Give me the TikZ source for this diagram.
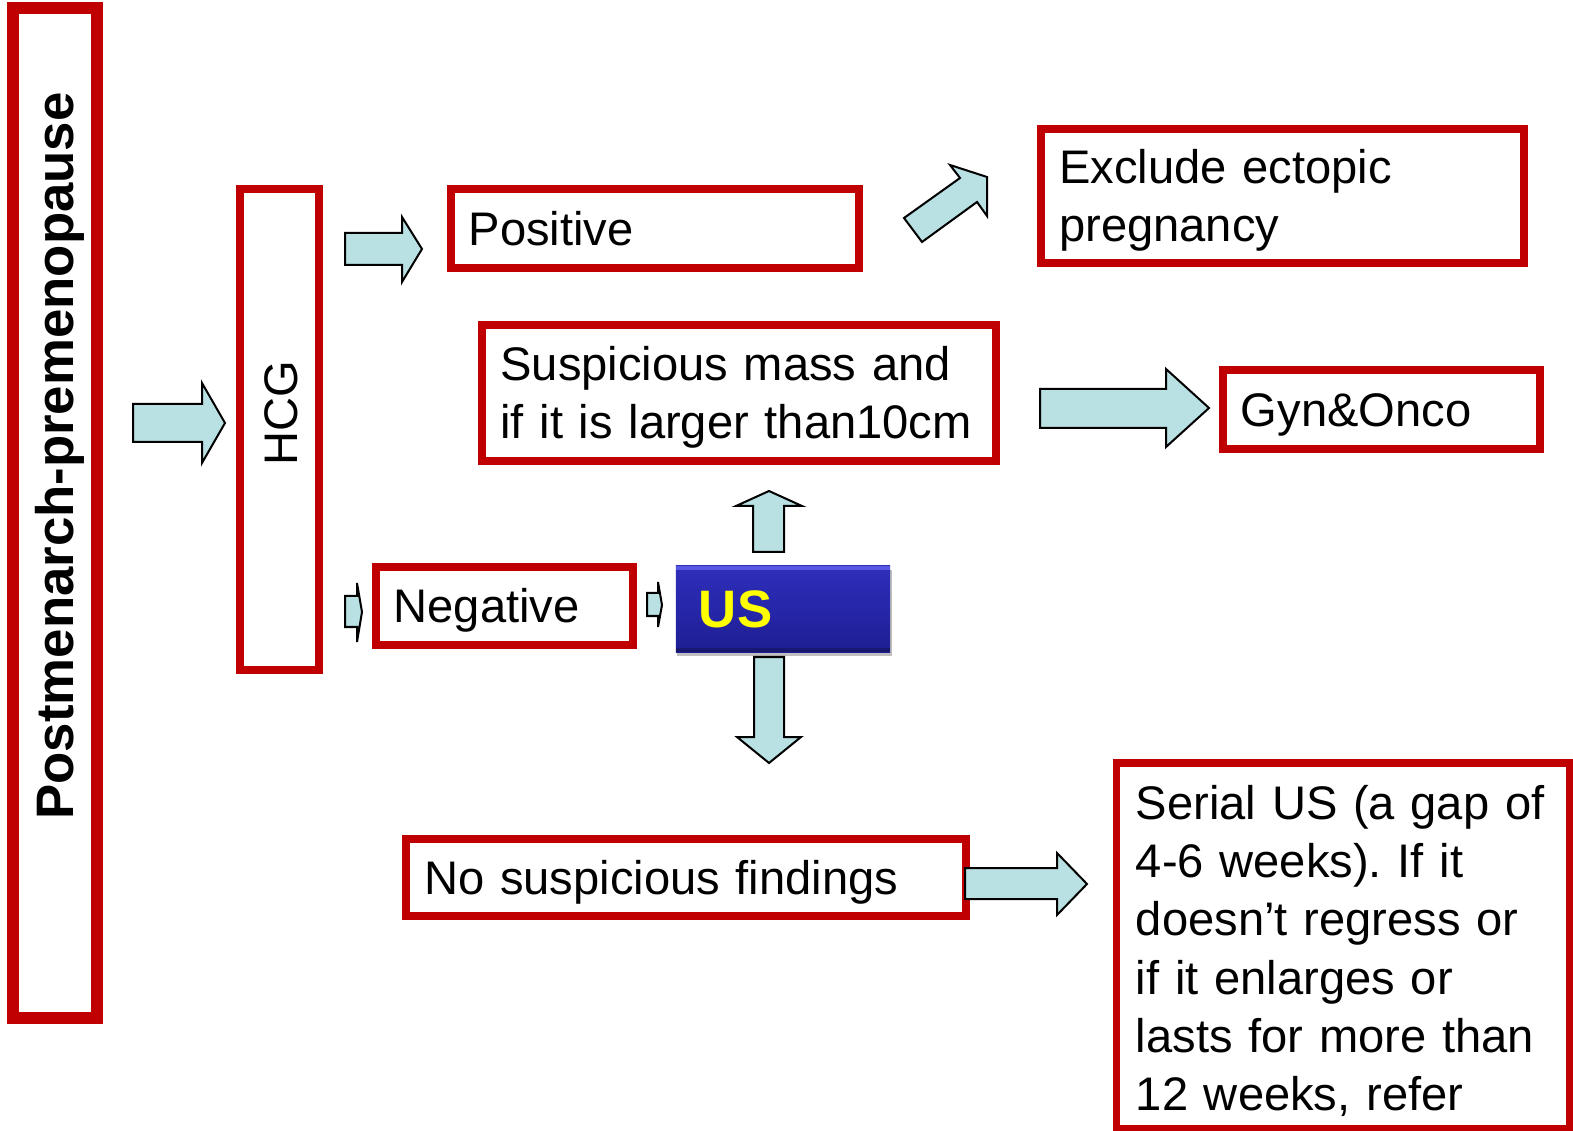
\documentclass[tikz,border=0pt]{standalone}
\usepackage{fontspec}
\setmainfont{Liberation Sans}
\usetikzlibrary{shadows}
\frenchspacing
\definecolor{boxred}{RGB}{192,0,0}
\definecolor{arrowfill}{RGB}{185,224,227}
\definecolor{usblue}{RGB}{38,38,170}
\definecolor{ustop}{RGB}{46,46,185}
\definecolor{usbot}{RGB}{30,30,145}
\definecolor{uslight}{RGB}{88,88,228}
\definecolor{usdark}{RGB}{24,24,112}
\definecolor{usyellow}{RGB}{255,255,0}
\begin{document}
\begin{tikzpicture}[x=0.01cm,y=-0.01cm,
  redbox/.style={draw=boxred, line width=0.08cm, fill=white, inner xsep=0.18cm, inner ysep=0pt,
    align=left, font=\fontsize{13.4pt}{16.5pt}\selectfont, text height=0.337cm, text depth=0pt},
  bigbox/.style={draw=boxred, line width=0.12cm, fill=white, inner sep=0pt},
  tallbox/.style={draw=boxred, line width=0.08cm, fill=white, inner sep=0pt},
  blockarrow/.style={fill=arrowfill, draw=black, line width=0.02cm, line join=miter},
  usbox/.style={top color=ustop, bottom color=usbot, middle color=usblue,
    minimum width=2.14cm, minimum height=0.86cm, text width=1.68cm, inner xsep=0.23cm, inner ysep=0pt,
    align=left, font=\fontsize{15pt}{18pt}\selectfont\bfseries, text=usyellow,
    text height=0.378cm, text depth=0pt,
    drop shadow={shadow xshift=0.015cm, shadow yshift=-0.04cm, opacity=0.25, fill=black},
    path picture={
      \fill[uslight] (path picture bounding box.north west) rectangle ([yshift=-0.04cm]path picture bounding box.north east);
      \fill[usdark] ([yshift=0.04cm]path picture bounding box.south west) rectangle (path picture bounding box.south east);
    }},
  sidelabel/.style={rotate=90, anchor=base, inner sep=0pt}]
\useasboundingbox (0,0) rectangle (1573,1131);

% boxes
\node[bigbox, minimum width=0.84cm, minimum height=10.10cm] (post) at (55,513) {};
\node[sidelabel, font=\fontsize{15pt}{18pt}\selectfont\bfseries] (postlabel) at (73,456) {Postmenarch-premenopause};

\node[tallbox, minimum width=0.784cm, minimum height=4.81cm] (hcg) at (279.5,429.5) {};
\node[sidelabel, font=\fontsize{13.4pt}{16.5pt}\selectfont] (hcglabel) at (297,413) {HCG};

\node[redbox, minimum height=0.785cm, text width=3.719cm] (pos) at (654.75,228.25) {Positive};
\node[redbox, minimum height=1.334cm, text width=4.466cm, text depth=0.58cm] (excl) at (1282.6,196.1) {Exclude ectopic\\pregnancy};
\node[redbox, minimum height=1.355cm, text width=4.777cm, text depth=0.58cm] (susp) at (739.35,392.75) {Suspicious mass and\\if it is larger than10cm};
\node[redbox, minimum height=0.79cm, text width=2.814cm] (gyn) at (1381.6,409.5) {Gyn\&Onco};
\node[redbox, minimum height=0.78cm, text width=2.21cm] (neg) at (504.3,606) {Negative};
\node[usbox] (us) at (783,609) {US};
\node[redbox, minimum height=0.77cm, text width=5.232cm] (nosusp) at (685.9,877.5) {No suspicious findings};
\node[redbox, line width=0.075cm, minimum height=3.655cm, text width=4.14cm, inner xsep=0.195cm,
  text height=0.385cm, text depth=2.9cm] (serial) at (1343,945.75)
  {Serial US (a gap of\\4-6 weeks). If it\\doesn’t regress or\\if it enlarges or\\lasts for more than\\12 weeks, refer};

% block arrows
\draw[blockarrow] (133,404) -- (202,404) -- (202,383) -- (225,423) -- (202,463) -- (202,442) -- (133,442) -- cycle;
\draw[blockarrow] (345,233) -- (402,233) -- (402,217) -- (422,249) -- (402,282) -- (402,265) -- (345,265) -- cycle;
\draw[blockarrow] (904,218) -- (960,178) -- (950,165) -- (987,177) -- (987,216) -- (977,202) -- (922,242) -- cycle;
\draw[blockarrow] (1040,389) -- (1166,389) -- (1166,369) -- (1209,408) -- (1166,447) -- (1166,428) -- (1040,428) -- cycle;
\draw[blockarrow] (345,596) -- (357,596) -- (357,583) -- (362,612) -- (357,642) -- (357,627) -- (345,627) -- cycle;
\draw[blockarrow] (647,593) -- (658,593) -- (658,582) -- (662,605) -- (658,627) -- (658,616) -- (647,616) -- cycle;
\draw[blockarrow] (753,552) -- (753,506) -- (736,506) -- (769,491) -- (802,506) -- (784,506) -- (784,552) -- cycle;
\draw[blockarrow] (754,657) -- (784,657) -- (784,737) -- (801,737) -- (769,763) -- (737,737) -- (754,737) -- cycle;
\draw[blockarrow] (965,868) -- (1057,868) -- (1057,853) -- (1087,884) -- (1057,915) -- (1057,899) -- (965,899) -- cycle;
\end{tikzpicture}
\end{document}
